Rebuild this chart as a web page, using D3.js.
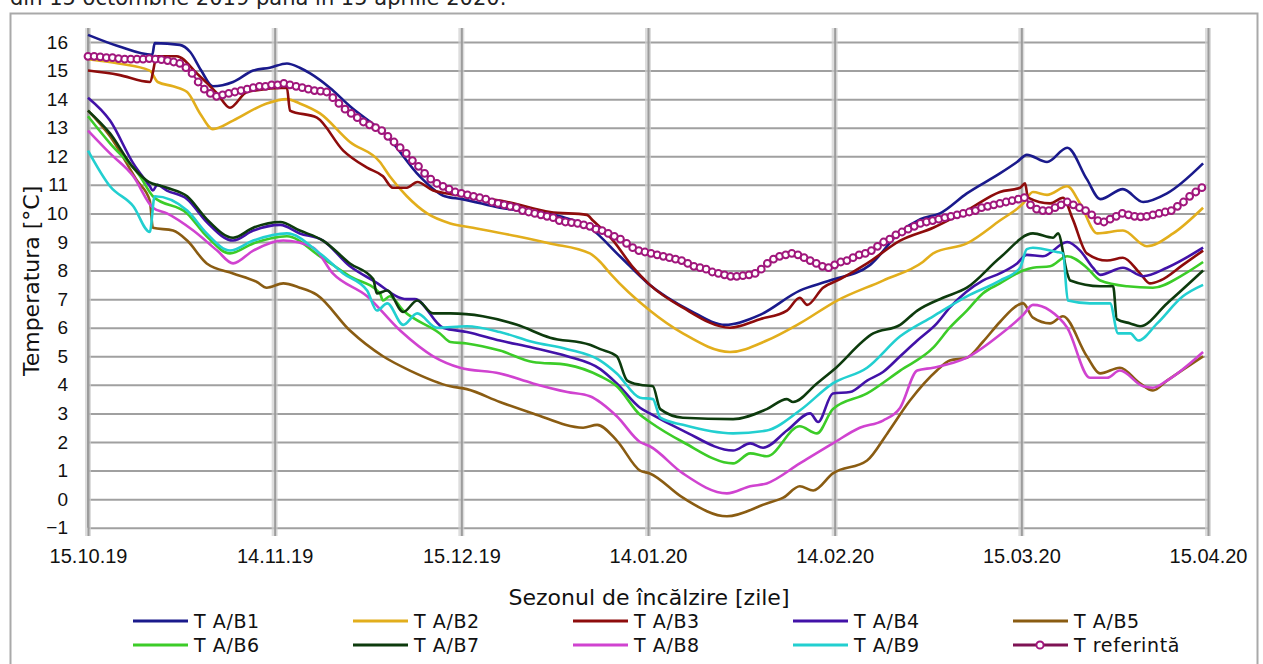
<!DOCTYPE html>
<html>
<head>
<meta charset="utf-8">
<script src="https://cdn.jsdelivr.net/npm/d3@7"></script>
<style>
  body { margin: 0; background: #fff; }
  svg { display: block; font-family: "DejaVu Sans", sans-serif; }
</style>
</head>
<body>
<div id="chart"></div>
<script>
// x ticks (days from 15.10.19) and their labels
const xTickDays = [0, 30.5, 61, 91.5, 122, 152.5, 183]
const xLabels = ["15.10.19", "14.11.19", "15.12.19", "14.01.20", "14.02.20", "15.03.20", "15.04.20"]
const yTicks = [-1, 0, 1, 2, 3, 4, 5, 6, 7, 8, 9, 10, 11, 12, 13, 14, 15, 16]

// series: [day, temperature]
const tB1 = [[0,16.25],[5,15.85],[10.5,15.55],[10.9,15.96],[15,15.9],[16.7,15.65],[18.5,15.0],[20.4,14.45],[23.7,14.6],[27,15.0],[29.7,15.1],[32.5,15.25],[34.6,15.1],[36.3,14.9],[39.5,14.4],[42.8,13.75],[48.9,12.7],[54.2,11.3],[58.3,10.6],[61.1,10.5],[67.3,10.2],[77.1,9.9],[82,9.5],[86.9,8.5],[91.5,7.55],[98.4,6.6],[104.1,6.1],[109.8,6.45],[116.3,7.3],[121.2,7.65],[127.8,8.2],[132.7,9.35],[136,9.8],[139.2,10.0],[143.6,10.7],[149,11.4],[151.8,11.8],[153.4,12.05],[156.7,11.8],[160,12.3],[163.2,11.2],[165.4,10.5],[169.1,10.85],[172.4,10.4],[176.3,10.7],[182.2,11.75]]
const tB2 = [[0,15.4],[5,15.25],[10.1,15.0],[11.4,14.6],[13.9,14.45],[16.2,14.25],[18.3,13.5],[20.4,12.95],[23.7,13.25],[29.2,13.85],[32.5,14.0],[34.6,13.85],[37.9,13.5],[42.8,12.5],[47.7,11.8],[49.3,11.3],[52.1,10.6],[55.4,10.0],[59.2,9.65],[62.9,9.5],[70.1,9.2],[75.5,8.95],[82,8.6],[83.7,8.3],[85.3,7.9],[91.8,6.6],[97.2,5.8],[104.9,5.15],[110.9,5.55],[116.3,6.15],[122.4,6.95],[129.9,7.65],[136.4,8.3],[138.1,8.6],[143.6,8.95],[149,9.75],[152.8,10.35],[154.4,10.75],[156.7,10.65],[160,10.95],[162.1,10.35],[164.9,9.3],[169.1,9.4],[173,8.85],[177.3,9.3],[182.2,10.2]]
const tB3 = [[0,15.0],[5,14.85],[10.1,14.6],[11.3,15.5],[14.5,15.5],[17.8,14.9],[21.1,14.2],[23.2,13.7],[26,14.25],[32.5,14.4],[33,13.6],[37.4,13.35],[41.7,12.2],[45.6,11.6],[48.2,11.3],[49.8,10.9],[52.1,10.9],[53.8,11.1],[56.4,10.8],[58.7,10.7],[68.5,10.4],[75.5,10.05],[81.5,9.95],[82.5,9.75],[85.8,9.05],[89.1,8.1],[91.8,7.5],[97.2,6.7],[104.9,6.0],[109.8,6.3],[114.2,6.6],[116.3,7.05],[117.5,6.8],[120.1,7.4],[122.9,7.7],[127.3,8.25],[132.7,9.05],[138.1,9.5],[143.6,10.1],[149,10.75],[152.3,10.9],[153.1,11.05],[153.6,10.55],[157.2,10.35],[159.3,10.55],[160.9,9.8],[163.2,8.6],[166.5,8.35],[169.1,8.45],[171.9,7.9],[173.5,7.55],[175.2,7.65],[178.9,8.2],[182.2,8.7]]
const tB4 = [[0,14.05],[3.6,13.25],[7.4,11.75],[10.1,10.95],[10.6,10.8],[11.3,11.0],[12.9,10.8],[16.2,10.5],[19.4,9.7],[23.7,9.05],[27,9.4],[31.4,9.6],[34.6,9.3],[38.4,9.05],[42.8,8.15],[46.6,7.65],[52.1,7.0],[53.4,7.0],[58,6.0],[61.9,5.85],[67.3,5.55],[72.7,5.3],[78.3,5.0],[83.7,4.55],[86.4,4.05],[90.2,3.2],[91.8,3.0],[97.2,2.4],[105.4,1.7],[108.2,1.95],[110.3,1.8],[114.2,2.4],[118,3.0],[119.3,2.7],[121.7,3.7],[124.5,3.75],[127.3,4.15],[129.9,4.45],[132.7,5.0],[135.5,5.55],[138.7,6.15],[140.8,6.7],[146.2,7.65],[149,7.9],[151.8,8.25],[153.4,8.55],[156,8.5],[160,9.0],[162.1,8.7],[164.2,8.1],[165.4,7.85],[169.1,8.1],[172.4,7.8],[176.3,8.1],[182.2,8.8]]
const tB5 = [[0,13.6],[3.6,12.7],[8,11.15],[10.1,10.45],[10.6,9.5],[13.9,9.4],[16.2,9.05],[19.4,8.25],[23.7,7.9],[27.6,7.6],[29.2,7.4],[31.9,7.55],[34.6,7.4],[37.4,7.15],[42.8,5.9],[48.2,5.0],[52.6,4.5],[59.2,3.95],[61.9,3.85],[67.3,3.4],[72.7,3.0],[80.9,2.5],[83.2,2.6],[86.4,2.05],[90.2,1.0],[91.8,0.9],[97.2,0.05],[104.4,-0.6],[110.9,-0.15],[113.6,0.05],[116.3,0.45],[118.5,0.3],[121.7,0.9],[127.3,1.35],[130.6,2.3],[134.3,3.45],[138.7,4.5],[140.8,4.85],[143.6,4.95],[146.2,5.5],[149,6.2],[152,6.8],[152.8,6.85],[154.4,6.35],[157.2,6.15],[159.3,6.4],[163.2,5.0],[165.4,4.4],[168.6,4.6],[171.9,4.05],[174,3.8],[176.3,4.15],[182.2,5.0]]
const tB6 = [[0,13.4],[3.6,12.45],[8.5,11.3],[10.6,10.6],[16.2,10.0],[19.4,9.2],[23.2,8.6],[27,8.95],[32.5,9.2],[37.9,8.5],[42.8,7.8],[47.7,7.2],[48.2,6.95],[49.3,7.1],[51.5,6.6],[57.5,5.8],[59.2,5.5],[61.9,5.45],[67.3,5.2],[72.7,4.8],[78.3,4.7],[83.7,4.3],[86.4,3.95],[90.2,2.95],[91.8,2.7],[97.2,2.0],[105.4,1.25],[108.2,1.6],[110.9,1.5],[116.3,2.55],[119.1,2.3],[121.7,3.15],[127.3,3.7],[132.7,4.5],[138.1,5.3],[140.8,6.0],[143.6,6.6],[146.2,7.2],[149,7.55],[152.8,8.0],[154.4,8.1],[157.2,8.15],[160,8.5],[163.2,8.1],[165.4,7.65],[169.8,7.45],[174,7.4],[178.9,7.85],[182.2,8.3]]
const tB7 = [[0,13.6],[3.6,12.8],[7.4,11.6],[9.6,11.15],[12.9,10.9],[16.2,10.6],[19.4,9.8],[23.7,9.15],[27,9.5],[31.4,9.7],[34.6,9.4],[38.4,9.05],[42.8,8.25],[46.6,7.7],[47.2,7.2],[48.9,7.3],[51.5,6.55],[53.8,6.95],[56.4,6.5],[59.2,6.5],[64.5,6.4],[70.1,6.1],[75.5,5.65],[82,5.4],[83.7,5.25],[86.4,5.0],[88.1,4.15],[90.2,4.0],[92.3,3.95],[93.5,3.15],[97.2,2.85],[105.4,2.8],[110.9,3.15],[114.2,3.5],[115.2,3.4],[119.1,4.05],[121.7,4.5],[128.3,5.8],[132.7,6.1],[135.5,6.6],[139.7,7.05],[143.6,7.4],[149,8.45],[154.4,9.3],[157.7,9.15],[158.5,9.3],[160,7.9],[160.5,7.65],[165.4,7.45],[167.5,7.45],[168.1,6.3],[170.3,6.15],[171.9,6.05],[176.3,6.85],[182.2,8.0]]
const tB8 = [[0,12.9],[3.6,12.1],[7.4,11.3],[10.6,10.2],[12.9,10.0],[17.2,9.4],[21.1,8.7],[23.7,8.25],[27,8.7],[31.9,9.05],[36.8,8.8],[40,7.9],[45.6,7.1],[51,5.9],[56.4,5.0],[60.8,4.6],[67.3,4.4],[72.7,4.05],[78.3,3.75],[82,3.6],[86.4,2.9],[90.2,2.0],[91.8,1.85],[97.2,0.9],[104.4,0.2],[108.2,0.45],[110.9,0.55],[116.3,1.25],[121.7,1.95],[126.1,2.5],[129.9,2.75],[132.7,3.2],[135.5,4.5],[138.1,4.6],[143.6,4.95],[149,5.75],[152.8,6.45],[154.4,6.8],[157.2,6.6],[160,6.0],[163.7,4.25],[166.5,4.25],[168.6,4.5],[172.4,3.95],[174,3.9],[176.3,4.15],[182.2,5.15]]
const tB9 = [[0,12.2],[3.6,10.95],[7.4,10.25],[10.1,9.35],[10.9,10.6],[16.2,10.1],[19.4,9.3],[23.2,8.7],[27,9.05],[32.5,9.3],[37.9,8.6],[41.7,7.9],[45.6,7.3],[47.2,6.6],[48.9,6.85],[51.5,6.1],[53.8,6.5],[57,6.0],[61.9,6.05],[67.3,5.85],[72.7,5.5],[78.3,5.25],[83.7,4.85],[86.4,4.4],[90.2,3.55],[92.3,3.5],[93.5,2.85],[97.2,2.6],[105.4,2.3],[110.9,2.4],[116.3,3.1],[121.7,4.05],[127.3,4.6],[132.7,5.7],[138.1,6.4],[143.6,7.1],[149,7.65],[152.3,8.1],[153.4,8.75],[154.4,8.8],[158.3,8.65],[159.3,8.6],[160.1,6.95],[163.7,6.85],[167,6.85],[168.3,5.8],[170.3,5.8],[171.6,5.55],[174.7,6.15],[178.9,7.1],[182.2,7.5]]

// reference temperature, one value per day from 15.10.19
const tRef = [
  15.5,15.5,15.48,15.45,15.45,15.42,15.4,15.4,15.4,15.4,
  15.42,15.4,15.38,15.35,15.3,15.25,15.1,14.9,14.6,14.35,
  14.2,14.1,14.15,14.2,14.25,14.3,14.35,14.4,14.45,14.45,
  14.5,14.5,14.55,14.5,14.45,14.4,14.35,14.3,14.28,14.25,
  14.05,13.85,13.65,13.5,13.35,13.2,13.1,13.0,12.9,12.7,
  12.5,12.3,12.1,11.85,11.65,11.4,11.2,11.05,10.95,10.85,
  10.75,10.7,10.65,10.6,10.55,10.5,10.4,10.35,10.3,10.25,
  10.2,10.1,10.05,10.0,9.95,9.9,9.85,9.75,9.7,9.68,
  9.65,9.6,9.55,9.45,9.4,9.3,9.2,9.1,8.95,8.8,
  8.7,8.65,8.6,8.55,8.5,8.45,8.4,8.35,8.25,8.15,
  8.1,8.05,7.95,7.9,7.85,7.8,7.8,7.82,7.85,7.9,
  8.05,8.25,8.4,8.5,8.55,8.6,8.55,8.45,8.35,8.25,
  8.15,8.1,8.2,8.3,8.35,8.45,8.55,8.6,8.7,8.85,
  9.0,9.1,9.25,9.35,9.45,9.55,9.65,9.7,9.75,9.8,
  9.85,9.9,9.95,10.0,10.05,10.1,10.2,10.25,10.3,10.35,
  10.4,10.45,10.5,10.55,10.3,10.15,10.1,10.1,10.2,10.3,
  10.4,10.3,10.2,10.1,9.95,9.75,9.7,9.8,9.9,10.0,
  9.95,9.9,9.88,9.9,9.95,10.0,10.05,10.1,10.25,10.4,
  10.6,10.75,10.9
]

const seriesNames = ["T A/B1", "T A/B2", "T A/B3", "T A/B4", "T A/B5", "T A/B6", "T A/B7", "T A/B8", "T A/B9"]
const seriesData = [tB1, tB2, tB3, tB4, tB5, tB6, tB7, tB8, tB9]
const colors = ["#1a1a8c", "#e2ae1c", "#8e0c0c", "#4212a8", "#8a5c12", "#3ccc28", "#0d3b0d", "#d043d0", "#22cfd0"]
const refName = "T referintă"
const refColor = "#a0167c"

const width = 1263, height = 664
const plot = { left: 88, right: 1208, top: 42, bottom: 527.7 }

const svg = d3.select("#chart").append("svg")
  .attr("width", width)
  .attr("height", height)

// caption text cut by the top of the picture (as in the source)
svg.append("text")
  .attr("x", 10).attr("y", 5)
  .attr("font-size", 21).attr("fill", "#222")
  .text("din 15 octombrie 2019 până în 15 aprilie 2020.")

// chart frame
svg.append("rect")
  .attr("x", 10.5).attr("y", 13.5)
  .attr("width", 1247).attr("height", 700)
  .attr("fill", "none").attr("stroke", "#a9a9a9").attr("stroke-width", 2)

const x = d3.scaleLinear().domain([0, 183]).range([plot.left, plot.right])
const y = d3.scaleLinear().domain([-1, 16]).range([plot.bottom, plot.top])

// y axis + horizontal grid
const gy = svg.append("g")
  .attr("transform", `translate(${plot.left},0)`)
  .call(d3.axisLeft(y).tickValues(yTicks).tickFormat(d3.format("d"))
    .tickSize(-(plot.right - plot.left)).tickPadding(20))
gy.select(".domain").remove()
gy.selectAll(".tick line").attr("stroke", "#a0a0a0").attr("stroke-width", 2)
gy.selectAll(".tick text").attr("font-size", 19).attr("fill", "#111")

// vertical grid, soft shadow behind each line
const gridTop = 28, gridBottom = 536
svg.append("g").selectAll("line")
  .data(xTickDays)
  .join("line")
  .attr("x1", d => x(d)).attr("x2", d => x(d))
  .attr("y1", gridTop).attr("y2", gridBottom)
  .attr("stroke", "#cfcfcf").attr("stroke-width", 6).attr("opacity", 0.7)

const gx = svg.append("g")
  .attr("transform", `translate(0,${gridBottom})`)
  .call(d3.axisBottom(x).tickValues(xTickDays).tickFormat((d, i) => xLabels[i])
    .tickSize(-(gridBottom - gridTop)).tickPadding(13))
gx.select(".domain").remove()
gx.selectAll(".tick line").attr("stroke", "#9c9c9c").attr("stroke-width", 2)
gx.selectAll(".tick text").attr("font-size", 20).attr("fill", "#111")

// left axis line
svg.append("line")
  .attr("x1", plot.left).attr("x2", plot.left)
  .attr("y1", gridTop).attr("y2", plot.bottom)
  .attr("stroke", "#9c9c9c").attr("stroke-width", 2)

// axis titles
svg.append("text")
  .attr("transform", `translate(39,${(plot.top + plot.bottom) / 2 - 4}) rotate(-90)`)
  .attr("text-anchor", "middle")
  .attr("font-size", 22).attr("fill", "#111")
  .text("Temperatura [°C]")

svg.append("text")
  .attr("x", 649).attr("y", 605)
  .attr("text-anchor", "middle")
  .attr("font-size", 22).attr("fill", "#111")
  .text("Sezonul de încălzire [zile]")

// series lines
const line = d3.line()
  .x(d => x(d[0]))
  .y(d => y(d[1]))
  .curve(d3.curveMonotoneX)

svg.append("g").selectAll("path")
  .data(seriesData)
  .join("path")
  .attr("d", line)
  .attr("fill", "none")
  .attr("stroke", (d, i) => colors[i])
  .attr("stroke-width", 2.6)
  .attr("stroke-linejoin", "round")

// reference line with markers
const refLine = d3.line()
  .x((d, i) => x(i))
  .y(d => y(d))
  .curve(d3.curveMonotoneX)

svg.append("path")
  .datum(tRef)
  .attr("d", refLine)
  .attr("fill", "none")
  .attr("stroke", refColor)
  .attr("stroke-width", 2)

svg.append("g").selectAll("circle")
  .data(tRef)
  .join("circle")
  .attr("cx", (d, i) => x(i))
  .attr("cy", d => y(d))
  .attr("r", 3.4)
  .attr("fill", "#fff")
  .attr("stroke", refColor)
  .attr("stroke-width", 2)

// legend
const legendNames = seriesNames.concat([refName])
const legendColors = colors.concat(["#7e1254"])
const legend = svg.append("g").selectAll("g")
  .data(legendNames)
  .join("g")
  .attr("transform", (d, i) => `translate(${133 + (i % 5) * 220},${i < 5 ? 621 : 645})`)

legend.append("line")
  .attr("x1", 0).attr("x2", 55)
  .attr("stroke", (d, i) => legendColors[i])
  .attr("stroke-width", 3)

legend.filter((d, i) => i === 9).append("circle")
  .attr("cx", 27).attr("r", 3.6)
  .attr("fill", "#fff").attr("stroke", refColor).attr("stroke-width", 2)

legend.append("text")
  .attr("x", 61).attr("y", 7)
  .attr("font-size", 19).attr("letter-spacing", 0.6).attr("fill", "#111")
  .text(d => d)
</script>
</body>
</html>
